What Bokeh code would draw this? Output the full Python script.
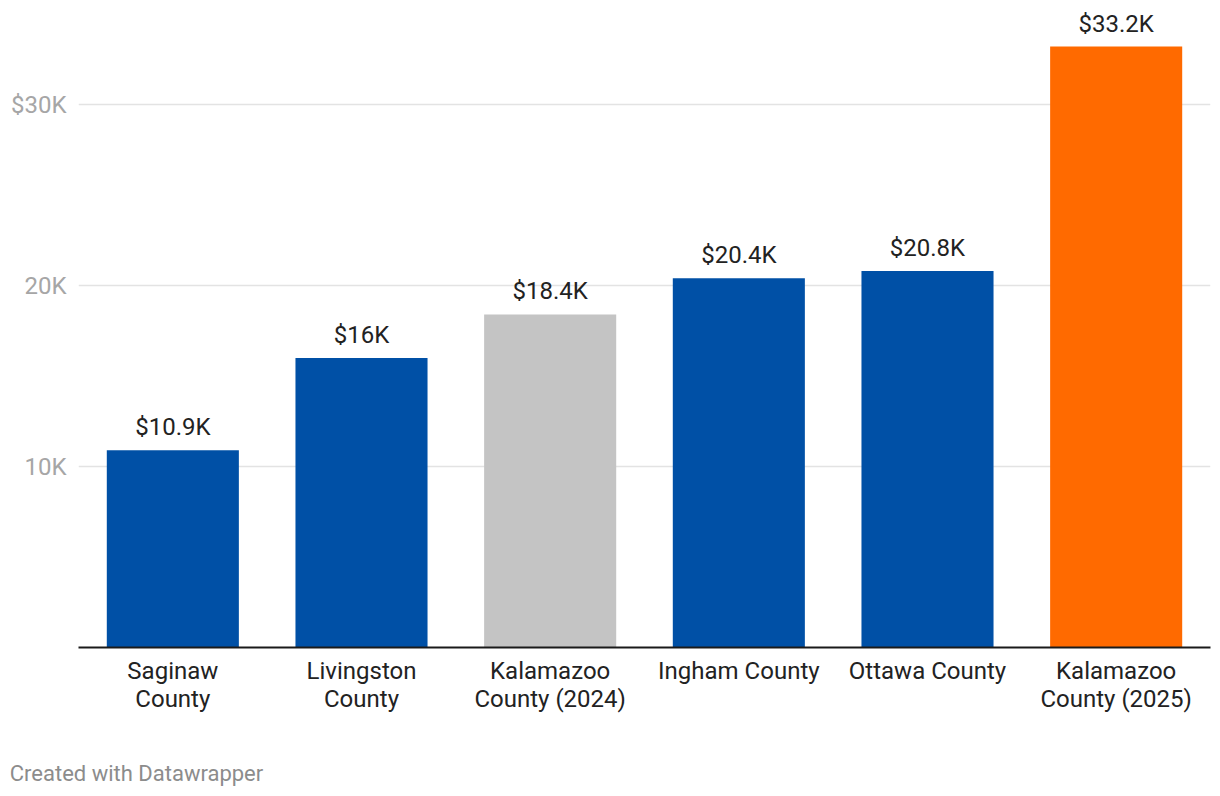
from bokeh.plotting import figure
from bokeh.models import (ColumnDataSource, Range1d, FixedTicker,
                          LinearAxis, CustomJSTickFormatter)
from bokeh.core.properties import value
from bokeh.embed import file_html
from bokeh.resources import INLINE

categories = ["Saginaw County", "Livingston County", "Kalamazoo County (2024)",
              "Ingham County", "Ottawa County", "Kalamazoo County (2025)"]
label_line1 = ["Saginaw", "Livingston", "Kalamazoo", "Ingham County", "Ottawa County", "Kalamazoo"]
label_line2 = ["County", "County", "County (2024)", "", "", "County (2025)"]
values = [10900, 16000, 18400, 20400, 20800, 33200]
value_labels = ["$10.9K", "$16K", "$18.4K", "$20.4K", "$20.8K", "$33.2K"]
colors = ["#0050a6", "#0050a6", "#c4c4c4", "#0050a6", "#0050a6", "#ff6a00"]
y_ticks = [10000, 20000, 30000]
y_tick_labels = ["10K", "20K", "$30K"]
footer_text = "Created with Datawrapper"

FONT = "Roboto"
FS = "24px"

# frame geometry (pixels on the page)
FRAME_LEFT, FRAME_RIGHT = 78, 1210
FOOTER_CENTER_PX = 136

n = len(categories)
xpos = list(range(n))
px_per_cat = (FRAME_RIGHT - FRAME_LEFT) / n
footer_x = (FOOTER_CENTER_PX - FRAME_LEFT) / px_per_cat - 0.5

src = ColumnDataSource(dict(x=xpos, cat=categories, val=values, lab=value_labels, col=colors))

p = figure(width=1212, height=792, output_backend="svg", toolbar_location=None,
           x_range=Range1d(-0.5, n - 0.5),
           y_range=Range1d(0, 35304),
           min_border_left=FRAME_LEFT, min_border_right=2, min_border_top=8,
           min_border_bottom=145)
p.outline_line_color = None
p.background_fill_color = "white"
p.border_fill_color = "white"

p.vbar(x="x", top="val", width=0.7, fill_color="col", line_color=None, source=src)
p.text(x="x", y="val", text="lab", source=src, text_align="center",
       text_baseline="middle", y_offset=-23, text_font=value(FONT),
       text_font_size=FS, text_color="#222222")

# grid
p.xgrid.grid_line_color = None
p.ygrid.grid_line_color = "#e3e3e3"
p.ygrid.grid_line_width = 1.5
p.ygrid.ticker = FixedTicker(ticks=y_ticks)


def hide_ticks(ax):
    ax.major_tick_line_color = None
    ax.minor_tick_line_color = None
    ax.major_tick_out = 0
    ax.major_tick_in = 0
    ax.minor_tick_out = 0
    ax.minor_tick_in = 0


# y axis
ya = p.yaxis[0]
ya.ticker = FixedTicker(ticks=y_ticks)
ya.major_label_overrides = {t: l for t, l in zip(y_ticks, y_tick_labels)}
ya.axis_line_color = None
hide_ticks(ya)
ya.major_label_standoff = 12
ya.major_label_text_font = FONT
ya.major_label_text_font_size = FS
ya.major_label_text_color = "#a6a6a6"


def line_formatter(lines):
    return CustomJSTickFormatter(args=dict(labs=lines),
                                 code="const i = Math.round(tick); return (i >= 0 && i < labs.length) ? labs[i] : '';")


# x axis (first line of category labels)
xa = p.xaxis[0]
xa.ticker = FixedTicker(ticks=xpos)
xa.formatter = line_formatter(label_line1)
xa.axis_line_color = "#1a1a1a"
xa.axis_line_width = 2
hide_ticks(xa)
xa.major_label_standoff = 9
xa.major_label_text_font = FONT
xa.major_label_text_font_size = FS
xa.major_label_text_color = "#222222"
xa.major_label_orientation = "horizontal"

# second line of category labels
xa2 = LinearAxis(
    ticker=FixedTicker(ticks=xpos), formatter=line_formatter(label_line2),
    axis_line_color=None, major_label_standoff=-3, major_label_text_font=FONT,
    major_label_text_font_size=FS, major_label_text_color="#222222",
    major_label_orientation="horizontal")
hide_ticks(xa2)
p.add_layout(xa2, "below")

# footer line, carried by one more axis with a single label
fa = LinearAxis(ticker=FixedTicker(ticks=[footer_x]),
                formatter=CustomJSTickFormatter(args=dict(t=footer_text), code="return t;"),
                axis_line_color=None, major_label_standoff=45,
                major_label_text_font=FONT, major_label_text_font_size="22px",
                major_label_text_color="#8c8c8c", major_label_orientation="horizontal")
hide_ticks(fa)
p.add_layout(fa, "below")

open("out.html", "w").write(file_html(p, INLINE))
